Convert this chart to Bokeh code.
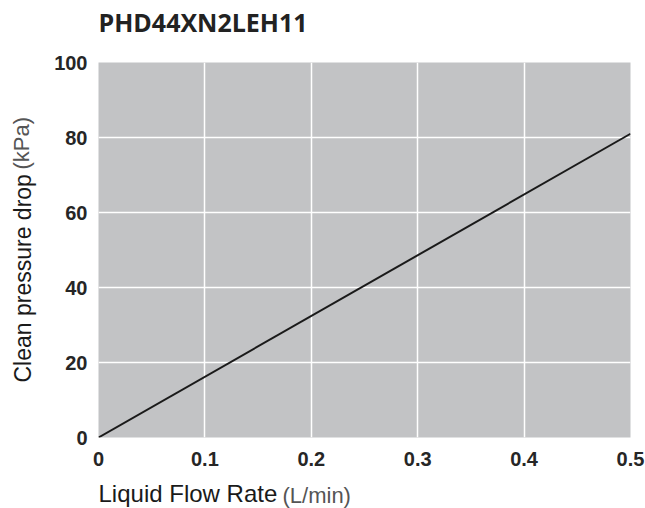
from bokeh.plotting import figure
from bokeh.models import Range1d, FixedTicker, Label, CustomJSTickFormatter
from bokeh.embed import file_html
from bokeh.resources import INLINE
import math

# ---- data ----
flow_rate = [0.0, 0.5]          # L/min
pressure_drop = [0.0, 81.0]     # kPa
x_ticks = [0, 0.1, 0.2, 0.3, 0.4, 0.5]
y_ticks = [0, 20, 40, 60, 80, 100]
title_text = "PHD44XN2LEH11"
ylab_main, ylab_unit = "Clean pressure drop", "(kPa)"
xlab_main, xlab_unit = "Liquid Flow Rate", "(L/min)"

TICK_FONT = "Liberation Sans"
LAB_FONT = "Liberation Sans"

p = figure(width=645, height=508, output_backend="svg", toolbar_location=None, title=None,
           x_range=Range1d(0, 0.5), y_range=Range1d(0, 100),
           min_border_left=97, min_border_right=15, min_border_top=62, min_border_bottom=71)

p.background_fill_color = "#c2c3c5"
p.border_fill_color = "white"
p.outline_line_color = None

p.line(flow_rate, pressure_drop, line_color="#1a1a1a", line_width=2)

for ax in (p.xaxis[0], p.yaxis[0]):
    ax.axis_line_color = None
    ax.major_tick_line_color = None
    ax.minor_tick_line_color = None
    ax.major_tick_out = 0
    ax.major_tick_in = 0
    ax.major_label_text_font = TICK_FONT
    ax.major_label_text_font_style = "bold"
    ax.major_label_text_font_size = "20px"
    ax.major_label_text_color = "#262626"

p.xaxis.ticker = FixedTicker(ticks=x_ticks)
p.yaxis.ticker = FixedTicker(ticks=y_ticks)
p.xaxis.formatter = CustomJSTickFormatter(code="return String(Math.round(tick*10)/10)")
p.yaxis.formatter = CustomJSTickFormatter(code="return String(Math.round(tick))")
p.xaxis.major_label_standoff = 14
p.yaxis.major_label_standoff = 11

p.xgrid.ticker = FixedTicker(ticks=x_ticks)
p.ygrid.ticker = FixedTicker(ticks=y_ticks)
p.grid.grid_line_color = "white"
p.grid.grid_line_width = 1.5

# Text labels live in side panels so they are not clipped to the frame.
# left: y label (two weights)
p.add_layout(Label(x=-3, y=55, x_units="screen", y_units="screen", text=ylab_main, angle=math.pi / 2,
                   text_font=LAB_FONT, text_font_size="23px", text_color="#1a1a1a",
                   text_align="left", text_baseline="alphabetic"), "left")
p.add_layout(Label(x=21, y=268, x_units="screen", y_units="screen", text=ylab_unit, angle=math.pi / 2,
                   text_font=LAB_FONT, text_font_size="22px", text_color="#555555",
                   text_align="left", text_baseline="alphabetic"), "left")

# below: x label main part
p.add_layout(Label(x=0, y=2, x_units="screen", y_units="screen", text=xlab_main,
                   text_font=LAB_FONT, text_font_size="24px", text_color="#1a1a1a",
                   text_align="left", text_baseline="alphabetic"), "below")

# above: x label unit part (drawn down at the bottom) and the title
p.add_layout(Label(x=184, y=-433, x_units="screen", y_units="screen", text=xlab_unit,
                   text_font=LAB_FONT, text_font_size="22px", text_color="#555555",
                   text_align="left", text_baseline="alphabetic"), "above")
p.add_layout(Label(x=0, y=16, x_units="screen", y_units="screen", text=title_text,
                   text_font="Open Sans", text_font_style="bold",
                   text_font_size="25px", text_color="#222222",
                   text_align="left", text_baseline="alphabetic"), "above")

open("out.html", "w").write(file_html(p, INLINE))
